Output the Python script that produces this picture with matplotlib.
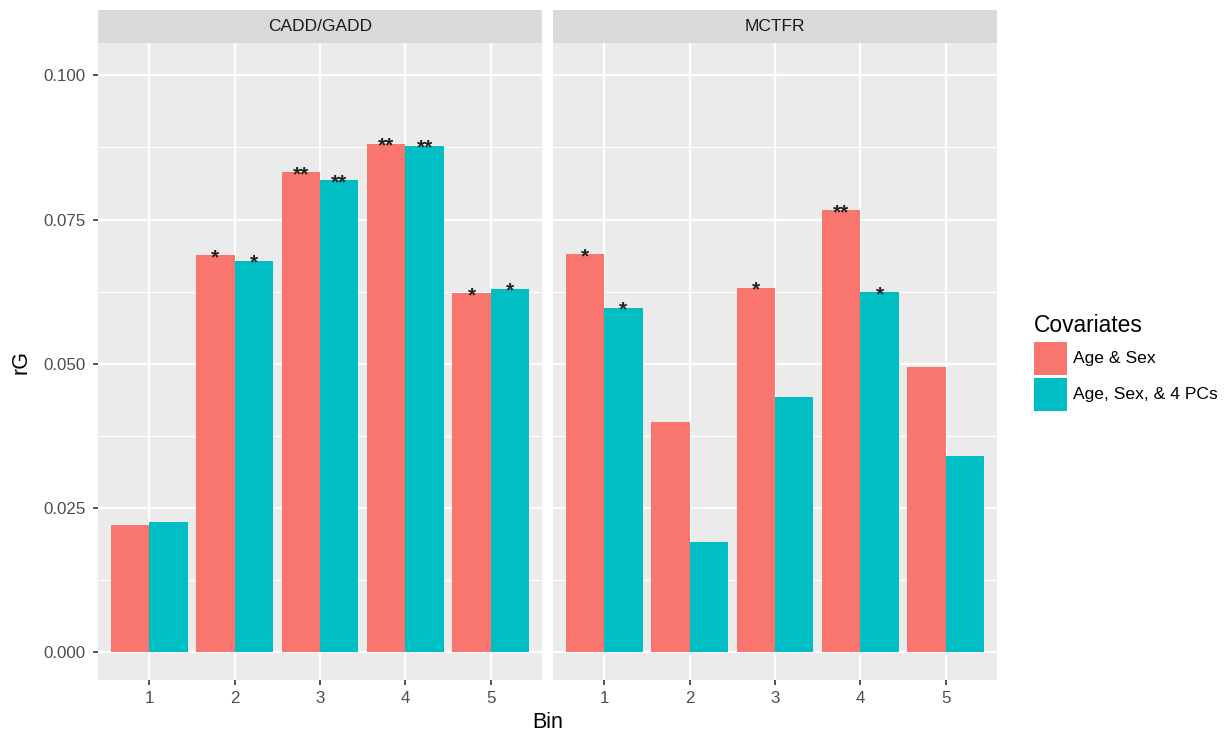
import matplotlib
matplotlib.use("Agg")
import matplotlib.pyplot as plt
from matplotlib.patches import Rectangle
import numpy as np

plt.rcParams['font.family'] = ['Liberation Sans', 'DejaVu Sans']

# ---- data ----
bins = ["1", "2", "3", "4", "5"]
panels = ["CADD/GADD", "MCTFR"]
series = ["Age & Sex", "Age, Sex, & 4 PCs"]
colors = ["#F8766D", "#00BFC4"]

cadd_age_sex = [0.0221, 0.0688, 0.0832, 0.0881, 0.0622]
cadd_age_sex_pcs = [0.0226, 0.0679, 0.0818, 0.0878, 0.0630]
mctfr_age_sex = [0.0690, 0.0400, 0.0632, 0.0766, 0.0494]
mctfr_age_sex_pcs = [0.0597, 0.0191, 0.0442, 0.0624, 0.0341]

cadd_stars_age_sex = ["", "*", "**", "**", "*"]
cadd_stars_pcs = ["", "*", "**", "**", "*"]
mctfr_stars_age_sex = ["*", "", "*", "**", ""]
mctfr_stars_pcs = ["*", "", "", "*", ""]

y_ticks = [0.0, 0.025, 0.05, 0.075, 0.1]
y_tick_labels = ["0.000", "0.025", "0.050", "0.075", "0.100"]

panel_values = {
    "CADD/GADD": ([cadd_age_sex, cadd_age_sex_pcs], [cadd_stars_age_sex, cadd_stars_pcs]),
    "MCTFR": ([mctfr_age_sex, mctfr_age_sex_pcs], [mctfr_stars_age_sex, mctfr_stars_pcs]),
}

# ---- figure ----
W, H = 1228, 734
fig = plt.figure(figsize=(W / 100, H / 100), dpi=100)
fig.patch.set_facecolor("white")


def px_rect(x0, y0, x1, y1):
    return [x0 / W, (H - y1) / H, (x1 - x0) / W, (y1 - y0) / H]


panel_x = [(98, 542), (553, 997)]
plot_top, plot_bot = 43, 680
strip_top = 10

bar_w = 0.45
x = np.arange(1, len(bins) + 1)

for i, (name, (x0, x1)) in enumerate(zip(panels, panel_x)):
    ax = fig.add_axes(px_rect(x0, plot_top, x1, plot_bot))
    ax.set_facecolor("#EBEBEB")
    ax.set_xlim(0.4, 5.6)
    ax.set_ylim(-0.0048, 0.1056)

    # grid
    for yv in [0.0125, 0.0375, 0.0625, 0.0875]:
        ax.axhline(yv, color="white", lw=0.9, zorder=0.5)
    for yv in y_ticks:
        ax.axhline(yv, color="white", lw=1.6, zorder=0.6)
    for xv in x:
        ax.axvline(xv, color="white", lw=1.6, zorder=0.6)

    vals, stars = panel_values[name]
    for s, (v, st, c) in enumerate(zip(vals, stars, colors)):
        offs = (s - 0.5) * bar_w
        ax.bar(x + offs, v, width=bar_w, color=c, zorder=2, linewidth=0)
        for xi, vi, si in zip(x + offs, v, st):
            if si:
                ax.annotate(si, (xi, vi), xytext=(0, -5.6), textcoords="offset points",
                            ha="center", va="baseline", fontsize=15, fontweight="bold",
                            color="#222222", zorder=3)

    for sp in ax.spines.values():
        sp.set_visible(False)
    ax.set_xticks(x)
    ax.set_xticklabels(bins)
    ax.set_yticks(y_ticks)
    if i == 0:
        ax.set_yticklabels(y_tick_labels)
    else:
        ax.set_yticklabels([])
    ax.tick_params(axis="both", colors="#333333", labelcolor="#4D4D4D",
                   labelsize=12.2, length=3.6, width=1.2, direction="out")
    ax.tick_params(axis="y", pad=5.5)
    ax.tick_params(axis="x", pad=4)
    if i != 0:
        ax.tick_params(axis="y", length=0)

    # facet strip
    sax = fig.add_axes(px_rect(x0, strip_top, x1, plot_top))
    sax.set_facecolor("#D9D9D9")
    sax.set_xticks([])
    sax.set_yticks([])
    for sp in sax.spines.values():
        sp.set_visible(False)
    sax.text(0.5, 0.5, name, ha="center", va="center", fontsize=12.5,
             color="#1A1A1A", transform=sax.transAxes)

# axis titles
fig.text(548 / W, 1 - 723 / H, "Bin", ha="center", va="center", fontsize=15.5, color="black")
fig.text(21 / W, 1 - 362 / H, "rG", ha="center", va="center", fontsize=15.5,
         color="black", rotation=90)

# legend
lax = fig.add_axes([0, 0, 1, 1], facecolor="none")
lax.set_xlim(0, W)
lax.set_ylim(H, 0)
lax.axis("off")
lax.text(1034, 325, "Covariates", ha="left", va="center", fontsize=16.4, color="black")
key_y = [342, 378]
for ky, c, lab in zip(key_y, colors, series):
    lax.add_patch(Rectangle((1034, ky), 33, 33, facecolor=c, edgecolor="none"))
    lax.text(1073, ky + 17, lab, ha="left", va="center", fontsize=12.6, color="black")

fig.savefig("out.png", dpi=100)
